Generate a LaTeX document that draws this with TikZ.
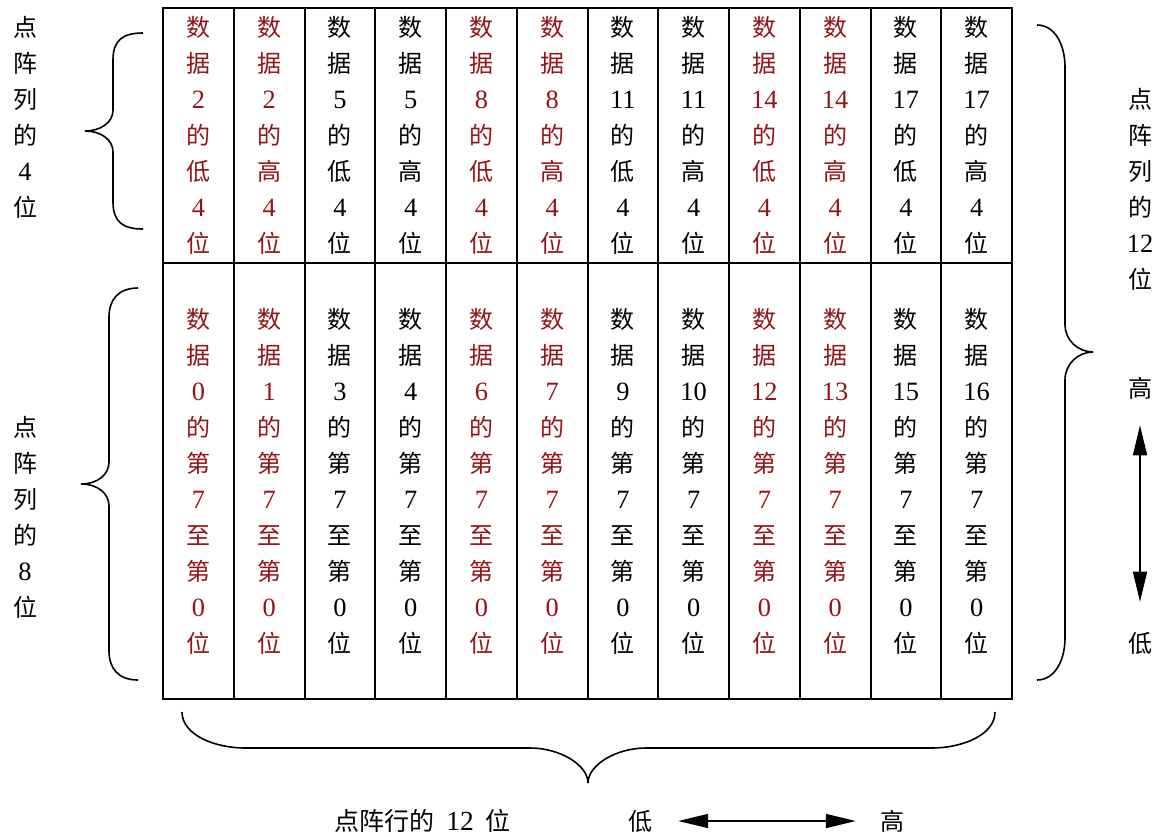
\documentclass[tikz,border=0pt]{standalone}
\usepackage{fontspec}
\setmainfont{Liberation Serif}[Scale=1.1]
\newfontfamily\cjk{Noto Sans CJK SC}
\usetikzlibrary{arrows.meta}
\definecolor{darkred}{RGB}{145,20,25}
\newcommand\zh[1]{{\cjk #1}}
\newcommand\topcol[2]{\zh{数}\\\zh{据}\\#1\\\zh{的}\\\zh{#2}\\4\\\zh{位}}
\newcommand\botcol[1]{\zh{数}\\\zh{据}\\#1\\\zh{的}\\\zh{第}\\7\\\zh{至}\\\zh{第}\\0\\\zh{位}}
\begin{document}
\begin{tikzpicture}[x=1pt,y=-1pt,
  cellbox/.style={draw, line width=2pt, minimum width=70.75pt, inner sep=0pt, outer sep=0pt,
    align=center, font=\fontsize{24}{36}\selectfont},
  lbl/.style={inner sep=0pt, align=center, font=\fontsize{24}{36}\selectfont},
  bracepath/.style={line width=1.6pt},
  arr/.style={line width=1.6pt, {Triangle[length=30pt,width=14pt]}-{Triangle[length=30pt,width=14pt]}}]
\useasboundingbox (0,0) rectangle (1170,836);
% cells
\foreach \i/\n/\m/\h in {0/2/0/低,1/2/1/高,2/5/3/低,3/5/4/高,4/8/6/低,5/8/7/高,6/11/9/低,7/11/10/高,8/14/12/低,9/14/13/高,10/17/15/低,11/17/16/高}{
  \pgfmathtruncatemacro\isred{mod(floor(\i/2),2)==0}
  \ifnum\isred=1 \def\col{darkred}\else\def\col{black}\fi
  \node[cellbox, text=\col, minimum height=255pt] (t\i) at ({163+70.75*(\i+0.5)},135.5) {\topcol{\n}{\h}};
  \node[cellbox, text=\col, minimum height=436pt] (b\i) at ({163+70.75*(\i+0.5)},481) {\botcol{\m}};
}
% side labels
\node[lbl] (ltl) at (25,117) {\zh{点}\\\zh{阵}\\\zh{列}\\\zh{的}\\4\\\zh{位}};
\node[lbl] (lbl8) at (25,517) {\zh{点}\\\zh{阵}\\\zh{列}\\\zh{的}\\8\\\zh{位}};
\node[lbl] (rl) at (1140,189) {\zh{点}\\\zh{阵}\\\zh{列}\\\zh{的}\\12\\\zh{位}};
\node[lbl] (gaoV) at (1140,388) {\zh{高}};
\node[lbl] (diV) at (1140,643) {\zh{低}};
\node[lbl, font=\fontsize{25}{30}\selectfont] (rowl) at (422.5,821) {\zh{点阵行的}\hspace{12pt}12\hspace{12pt}\zh{位}};
\node[lbl] (diH) at (640,821) {\zh{低}};
\node[lbl] (gaoH) at (892,821) {\zh{高}};
% arrows
\draw[arr, shorten <=26pt, shorten >=30pt] (gaoV) -- (diV);
\draw[arr, shorten <=26pt, shorten >=24pt] (diH) -- (gaoH);
% braces
\draw[bracepath] (143,33) .. controls (123,33) and (113,40) .. (113,60) -- (113,110)
  .. controls (113,123) and (100,131) .. (85,131) .. controls (100,131) and (113,139) .. (113,152)
  -- (113,202) .. controls (113,222) and (123,229) .. (143,229);
\draw[bracepath] (138,288) .. controls (118,288) and (109,300) .. (109,317) -- (109,462)
  .. controls (109,475) and (97,484) .. (81,484) .. controls (97,484) and (109,493) .. (109,506)
  -- (109,651) .. controls (109,668) and (118,680) .. (138,680);
\draw[bracepath] (1037,25) .. controls (1055,25) and (1065,45) .. (1065,67) -- (1065,325)
  .. controls (1065,340) and (1078,352) .. (1093,352) .. controls (1078,352) and (1065,364) .. (1065,380)
  -- (1065,638) .. controls (1065,660) and (1055,680) .. (1037,680);
\draw[bracepath] (182,712) .. controls (182,735) and (215,748) .. (245,748) -- (530,748)
  .. controls (560,748) and (588,765) .. (588,783) .. controls (588,765) and (616,748) .. (646,748)
  -- (932,748) .. controls (962,748) and (995,735) .. (995,712);
\end{tikzpicture}
\end{document}
